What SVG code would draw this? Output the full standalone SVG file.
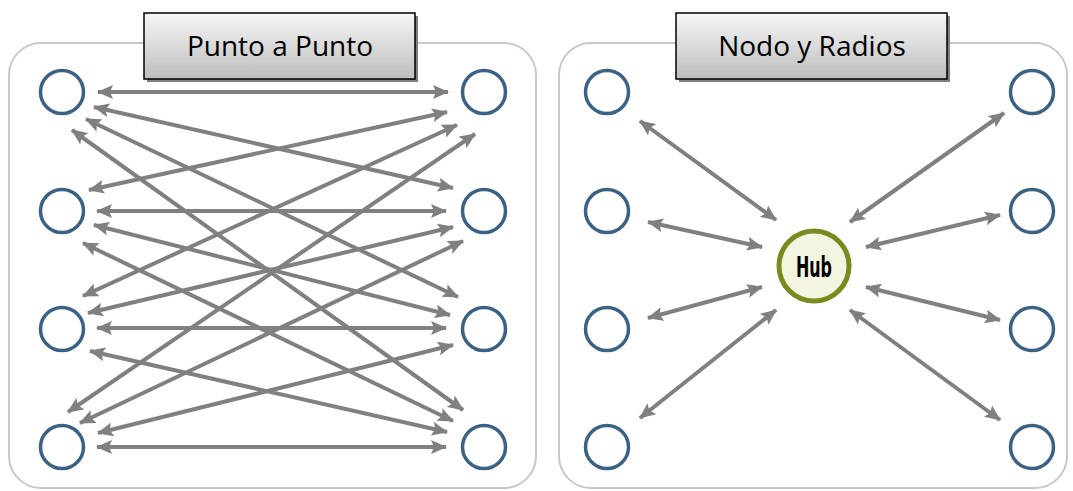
<svg xmlns="http://www.w3.org/2000/svg" width="1073" height="491" viewBox="0 0 1073 491">
<defs>
<linearGradient id="tg" x1="0" y1="0" x2="0" y2="1">
<stop offset="0" stop-color="#f7f7f7"/>
<stop offset="1" stop-color="#bdbdbd"/>
</linearGradient>
<marker id="ah" viewBox="0 0 16 14" refX="15" refY="7" markerWidth="16" markerHeight="14" markerUnits="userSpaceOnUse" orient="auto-start-reverse">
<path d="M0,0 L16,7 L0,14 L3,7 Z" fill="#808080"/>
</marker>
</defs>
<style>
.panel{fill:#ffffff;stroke:#c8c8c8;stroke-width:2}
.tshadow{fill:#7f7f7f}
.tbox{fill:url(#tg);stroke:#000000;stroke-width:1.5}
.ttext{font-family:"Open Sans","Liberation Sans",sans-serif;font-size:28px;fill:#000000;text-anchor:middle}
.node{fill:#ffffff;stroke:#3b6184;stroke-width:3.5}
.conn line{stroke:#808080;stroke-width:4;marker-start:url(#ah);marker-end:url(#ah)}
.hub{fill:#f3f5e1;stroke:#7b8a1f;stroke-width:5}
.hubtext{font-family:"DejaVu Sans Condensed","DejaVu Sans",sans-serif;font-weight:bold;font-size:29px;fill:#000000;text-anchor:middle}
</style>
<rect class="panel" x="9" y="43" width="527" height="445" rx="32"/>
<rect class="panel" x="559" y="43" width="508" height="445" rx="32"/>

<g id="title-left">
<rect class="tshadow" x="147" y="16" width="271" height="66"/>
<rect class="tbox" x="144" y="13" width="271" height="66"/>
<text class="ttext" x="280" y="56">Punto a Punto</text>
</g>
<g id="title-right">
<rect class="tshadow" x="679" y="16" width="271" height="66"/>
<rect class="tbox" x="676" y="13" width="271" height="66"/>
<text class="ttext" x="812" y="56">Nodo y Radios</text>
</g>

<g id="connectors" class="conn">
<line x1="98" y1="92" x2="448" y2="92"/>
<line x1="94" y1="107" x2="453" y2="188"/>
<line x1="86" y1="119" x2="458" y2="297"/>
<line x1="72" y1="130" x2="463" y2="410"/>
<line x1="89" y1="190" x2="447" y2="112"/>
<line x1="97" y1="211" x2="446" y2="211"/>
<line x1="94" y1="225" x2="450" y2="315"/>
<line x1="83" y1="243" x2="453" y2="421"/>
<line x1="83" y1="296" x2="457" y2="125"/>
<line x1="88" y1="313" x2="453" y2="227"/>
<line x1="97" y1="328" x2="446" y2="328"/>
<line x1="90" y1="351" x2="447" y2="432"/>
<line x1="68" y1="412" x2="475" y2="134"/>
<line x1="80" y1="423" x2="463" y2="241"/>
<line x1="98" y1="433" x2="453" y2="345"/>
<line x1="97" y1="447" x2="446" y2="447"/>

<line x1="640" y1="121" x2="776" y2="220"/>
<line x1="648" y1="222" x2="762" y2="247"/>
<line x1="648" y1="318" x2="762" y2="287"/>
<line x1="640" y1="418" x2="776" y2="310"/>
<line x1="1004" y1="113" x2="850" y2="222"/>
<line x1="1000" y1="215" x2="866" y2="247"/>
<line x1="1000" y1="320" x2="866" y2="287"/>
<line x1="1000" y1="420" x2="850" y2="310"/>
</g>

<g id="pp-l1"><circle class="node" cx="62" cy="92" r="21.5"/></g>
<g id="pp-l2"><circle class="node" cx="62" cy="211" r="21.5"/></g>
<g id="pp-l3"><circle class="node" cx="62" cy="329" r="21.5"/></g>
<g id="pp-l4"><circle class="node" cx="62" cy="447" r="21.5"/></g>
<g id="pp-r1"><circle class="node" cx="484" cy="92" r="21.5"/></g>
<g id="pp-r2"><circle class="node" cx="484" cy="211" r="21.5"/></g>
<g id="pp-r3"><circle class="node" cx="484" cy="329" r="21.5"/></g>
<g id="pp-r4"><circle class="node" cx="484" cy="447" r="21.5"/></g>

<g id="hs-l1"><circle class="node" cx="607" cy="92" r="21.5"/></g>
<g id="hs-l2"><circle class="node" cx="607" cy="211" r="21.5"/></g>
<g id="hs-l3"><circle class="node" cx="607" cy="329" r="21.5"/></g>
<g id="hs-l4"><circle class="node" cx="607" cy="447" r="21.5"/></g>
<g id="hs-r1"><circle class="node" cx="1032" cy="92" r="21.5"/></g>
<g id="hs-r2"><circle class="node" cx="1032" cy="211" r="21.5"/></g>
<g id="hs-r3"><circle class="node" cx="1032" cy="329" r="21.5"/></g>
<g id="hs-r4"><circle class="node" cx="1032" cy="447" r="21.5"/></g>

<g id="hub">
<circle class="hub" cx="814" cy="266" r="35"/>
<text class="hubtext" x="814" y="277" textLength="36" lengthAdjust="spacingAndGlyphs">Hub</text>
</g>
</svg>
